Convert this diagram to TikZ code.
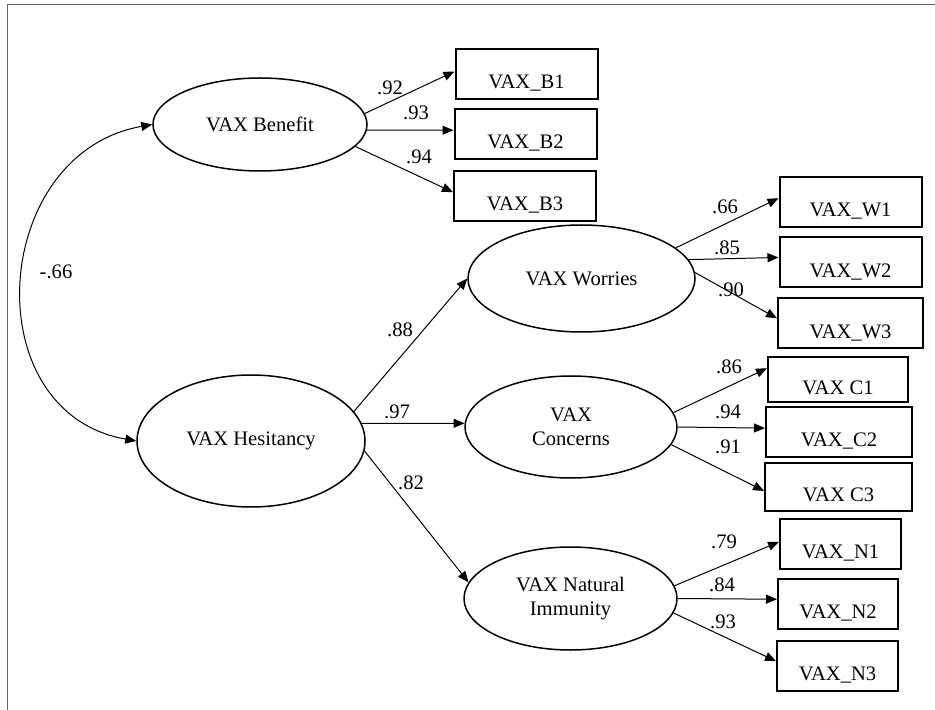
\documentclass[tikz,border=0pt]{standalone}
\usepackage{fontspec}
\setmainfont{Liberation Serif}
\usetikzlibrary{arrows.meta,shapes.geometric}

\begin{document}
\begin{tikzpicture}[x=0.5pt, y=-0.5pt, every node/.style={font=\fontsize{10.3}{12.3}\selectfont},
  lat/.style={ellipse, draw, line width=0.75pt, inner sep=0pt, align=center},
  obs/.style={rectangle, draw, line width=1pt, minimum width=71pt, minimum height=25pt, inner sep=0pt, text height=14.8pt, text depth=0pt},
  arr/.style={-{Triangle[length=5.5pt,width=4.5pt]}, line width=0.5pt},
  lbl/.style={inner sep=0pt}]
\useasboundingbox (0,0) rectangle (935,710);
% Frame
\draw[black!60, line width=0.5pt] (7,710) -- (7,5) -- (935,5);
% Latent factors
\node[lat, minimum width=107pt, minimum height=46.5pt] (ben) at (260,124.5) {VAX Benefit};
\node[lat, minimum width=114pt, minimum height=66pt] (hes) at (251,441) {VAX Hesitancy};
\node[lat, minimum width=113.5pt, minimum height=53.5pt] (wor) at (581.5,278.5) {VAX Worries};
\node[lat, minimum width=106pt, minimum height=51pt] (con) at (571,427) {VAX\\Concerns};
\node[lat, minimum width=106.5pt, minimum height=51.5pt] (nat) at (570.5,598.5) {VAX Natural\\Immunity};
% Items
\node[obs] (b1) at (526.5,74) {VAX\_B1};
\node[obs] (b2) at (525.5,134) {VAX\_B2};
\node[obs] (b3) at (525,196) {VAX\_B3};
\node[obs] (w1) at (850.5,202) {VAX\_W1};
\node[obs] (w2) at (850.5,262.5) {VAX\_W2};
\node[obs, minimum width=72.5pt] (w3) at (850.5,323.5) {VAX\_W3};
\node[obs, minimum width=70pt, minimum height=22.5pt] (c1) at (838,379.5) {VAX C1};
\node[obs, minimum width=73pt] (c2) at (839,432) {VAX\_C2};
\node[obs, minimum width=73.5pt, minimum height=24pt] (c3) at (838.5,487) {VAX C3};
\node[obs, minimum width=60.5pt] (n1) at (840.5,544) {VAX\_N1};
\node[obs, minimum width=60pt] (n2) at (838,603.5) {VAX\_N2};
\node[obs, minimum width=60.5pt] (n3) at (837.5,665.5) {VAX\_N3};
% Loadings
\draw[arr] (ben.6) -- (b1.178);
\draw[arr] (ben.-3) -- (b2.177);
\draw[arr] (ben.-13) -- (b3.177);
\draw[arr] (wor.18) -- (w1.177);
\draw[arr] (wor.10) -- (w2.176);
\draw[arr] (wor.3) -- (w3.176);
\draw[arr] (con.8) -- (c1.171);
\draw[arr] (con.east) -- (c2.177);
\draw[arr] (con.-10) -- (c3.183);
\draw[arr] (nat.7) -- (n1.178);
\draw[arr] (nat.east) -- (n2.176);
\draw[arr] (nat.-8) -- (n3.176);
% Second order paths
\draw[arr] (hes.16) -- (wor.west);
\draw[arr] (hes.9) -- (con.178);
\draw[arr] (hes.-5) -- (nat.171);
% Covariance
\draw[{Triangle[length=5.5pt,width=4.5pt]}-{Triangle[length=5.5pt,width=4.5pt]}, line width=0.5pt]
  (ben.west) to[out=190, in=170, looseness=1.33] (hes.west);
% Coefficients
\node[lbl] (lcov) at (56,272) {-.66};
\node[lbl] (lb1) at (390,88) {.92};
\node[lbl] (lb2) at (416,113) {.93};
\node[lbl] (lb3) at (419,157) {.94};
\node[lbl] (lw1) at (725,207) {.66};
\node[lbl] (lw2) at (727,248) {.85};
\node[lbl] (lw3) at (731,290) {.90};
\node[lbl] (lc1) at (729,367) {.86};
\node[lbl] (lc2) at (728,412) {.94};
\node[lbl] (lc3) at (728,447) {.91};
\node[lbl] (ln1) at (724,542) {.79};
\node[lbl] (ln2) at (722,585) {.84};
\node[lbl] (ln3) at (723,622) {.93};
\node[lbl] (lwor) at (400,330) {.88};
\node[lbl] (lcon) at (397,412) {.97};
\node[lbl] (lnat) at (411,483) {.82};
\end{tikzpicture}
\end{document}
